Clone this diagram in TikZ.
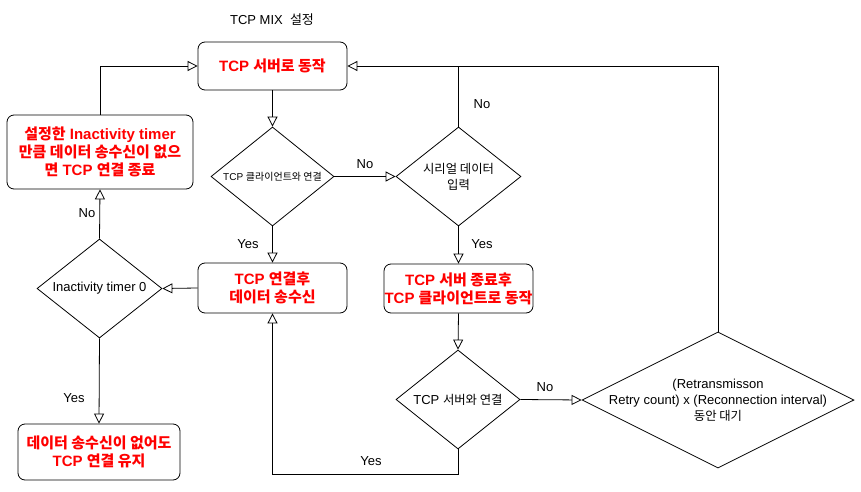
\documentclass[tikz,border=0pt]{standalone}
\usepackage{fontspec}
\setmainfont{Liberation Sans}
\newfontfamily\kr{Noto Sans CJK KR}[Scale=0.95]
\newfontfamily\krb{Noto Sans CJK KR}[Scale=1.0]
\newcommand\kor[1]{{\kr #1}}
\newcommand\kob[1]{{\krb #1}}
\usetikzlibrary{shapes.geometric,arrows.meta}
\definecolor{redtxt}{RGB}{255,0,0}
\tikzset{
  box/.style={draw, line width=0.8pt, rounded corners=7pt, align=center, inner sep=0pt,
    text=redtxt, font=\fontsize{15}{18}\selectfont\bfseries},
  dia/.style={draw, line width=0.8pt, diamond, inner sep=0pt},
  dtxt/.style={align=center, font=\fontsize{13}{16}\selectfont},
  lbl/.style={font=\fontsize{13}{16}\selectfont},
  arr/.style={line width=0.8pt, -{Triangle[open, length=10pt, width=10pt]}},
  ln/.style={line width=0.8pt}
}
\begin{document}
\begin{tikzpicture}[x=1pt, y=-1pt]
\useasboundingbox (0,0) rectangle (861,492);
% title
\node[lbl] (title) at (272,20) {TCP MIX\ \ {\krb 설정}};
% boxes
\node[box, minimum width=149pt, minimum height=48pt] (A) at (272.5,66) {TCP \kob{서버로 동작}};
\node[box, minimum width=186pt, minimum height=74pt] (B) at (100,152)
  {\kob{설정한} Inactivity timer\\\kob{만큼 데이터 송수신이 없으}\\\kob{면} TCP \kob{연결 종료}};
\node[box, minimum width=149pt, minimum height=50pt] (C) at (272.5,288) {TCP \kob{연결후}\\\kob{데이터 송수신}};
\node[box, minimum width=149pt, minimum height=49pt] (D) at (458.5,288.5) {TCP \kob{서버 종료후}\\TCP \kob{클라이언트로 동작}};
\node[box, minimum width=162pt, minimum height=56pt] (E) at (99,452) {\kob{데이터 송수신이 없어도}\\TCP \kob{연결 유지}};
% diamonds
\node[dia, minimum width=123pt, minimum height=99pt] (D1) at (272.5,176.5) {};
\node[dtxt, font=\fontsize{10}{12}\selectfont] (D1t) at (D1.center) {TCP {\krb 클라이언트와 연결}};
\node[dia, minimum width=125pt, minimum height=99pt] (D2) at (458.5,176.5) {};
\node[dtxt] (D2t) at (D2.center) {\kor{시리얼 데이터}\\\kor{입력}};
\node[dia, minimum width=124pt, minimum height=99pt] (D3) at (458,399.5) {};
\node[dtxt] (D3t) at (D3.center) {TCP \kor{서버와 연결}};
\node[dia, minimum width=272pt, minimum height=136pt] (D4) at (718,400) {};
\node[dtxt] (D4t) at (D4.center) {(Retransmisson\\Retry count) x (Reconnection interval)\\\kor{동안 대기}};
\node[dia, minimum width=125pt, minimum height=99pt] (D5) at (99.5,288.5) {};
\node[dtxt] (D5t) at (D5.center) {Inactivity timer 0};
% connectors
\draw[arr] (A.south) -- (D1.north);
\draw[arr] (D1.east) -- (D2.west);
\node[lbl] (n1) at (365,164) {No};
\draw[arr] (D1.south) -- (C.north);
\node[lbl] (y1) at (248,244) {Yes};
\draw[arr] (D2.south) -- (D.north);
\node[lbl] (y2) at (482,244) {Yes};
\draw[arr] (D4.north) |- (A.east);
\draw[ln] (D2.north) -- (D2.north |- A.east);
\node[lbl] (n2) at (482,104) {No};
\draw[arr] (D.south) -- (D3.north);
\draw[arr] (D3.east) -- (D4.west);
\node[lbl] (n3) at (545,387) {No};
\coordinate (c1) at (458,474);
\draw[arr] (D3.south) -- (c1) -| (C.south);
\node[lbl] (y3) at (371,461) {Yes};
\draw[arr] (C.west) -- (D5.east);
\draw[arr] (D5.north) -- (B.south);
\node[lbl] (n4) at (87,213) {No};
\draw[arr] (D5.south) -- (E.north);
\node[lbl] (y4) at (74,398) {Yes};
\draw[arr] (B.north) |- (A.west);
\end{tikzpicture}
\end{document}
